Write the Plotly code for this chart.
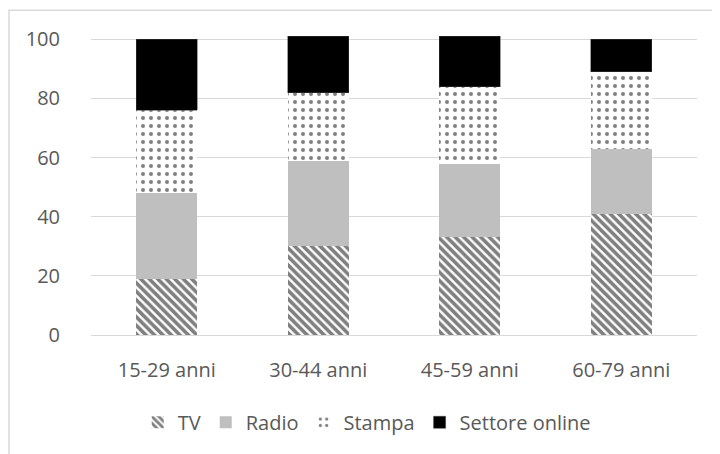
import plotly.graph_objects as go

categories = ["15-29 anni", "30-44 anni", "45-59 anni", "60-79 anni"]
tv = [19, 30, 33, 41]
radio = [29, 29, 25, 22]
stampa = [28, 23, 26, 26]
online = [24, 19, 17, 11]
y_ticks = [0, 20, 40, 60, 80, 100]

FONT = "Open Sans"
TXT = "#595959"
FS = 20

fig = go.Figure()
fig.add_trace(go.Bar(
    name="TV", x=categories, y=tv,
    marker=dict(color="white", line=dict(width=0),
                pattern=dict(shape="\\", fgcolor="black", bgcolor="white",
                             size=6, solidity=0.6, fillmode="overlay")),
))
fig.add_trace(go.Bar(
    name="Radio", x=categories, y=radio,
    marker=dict(color="#bfbfbf", line=dict(width=0)),
))
fig.add_trace(go.Bar(
    name="Stampa", x=categories, y=stampa,
    marker=dict(color="white", line=dict(width=0),
                pattern=dict(shape=".", fgcolor="black", bgcolor="white",
                             size=8, solidity=0.2, fillmode="overlay")),
))
fig.add_trace(go.Bar(
    name="Settore online", x=categories, y=online,
    marker=dict(color="black", line=dict(width=0.5, color="#404040")),
))

fig.update_layout(
    barmode="stack",
    bargap=0.6,
    width=712, height=446,
    margin=dict(l=83, r=23, t=26, b=117),
    paper_bgcolor="white", plot_bgcolor="white",
    font=dict(family=FONT, size=FS, color=TXT),
    legend=dict(orientation="h", x=0.455, xanchor="center", y=-0.29,
                yanchor="middle", font=dict(family=FONT, size=FS, color=TXT),
                itemwidth=30, traceorder="normal", tracegroupgap=0),
    xaxis=dict(showgrid=False, showline=True, linecolor="#d9d9d9", linewidth=1,
               ticks="", ticklabelstandoff=17,
               tickfont=dict(family=FONT, size=FS, color=TXT)),
    yaxis=dict(range=[0, 101.8], tickvals=y_ticks, showgrid=True,
               gridcolor="#d9d9d9", gridwidth=1, zeroline=False,
               showline=False, ticks="outside", ticklen=26,
               tickcolor="rgba(0,0,0,0)",
               tickfont=dict(family=FONT, size=FS, color=TXT)),
    shapes=[dict(type="rect", xref="paper", yref="paper",
                 x0=-0.1353, x1=1.06, y0=-0.45, y1=1.079,
                 line=dict(color="#d9d9d9", width=1.5),
                 fillcolor="rgba(0,0,0,0)", layer="below")],
)

fig.write_html("out.html")
